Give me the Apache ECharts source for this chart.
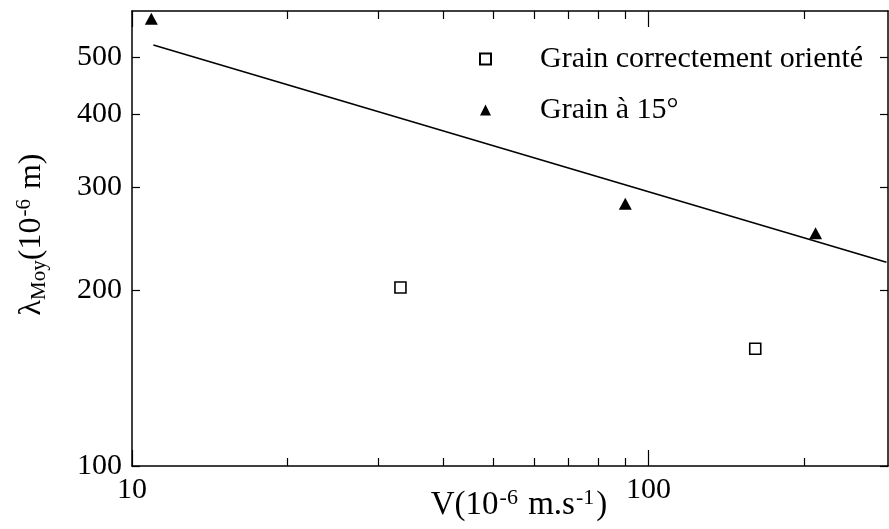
<!DOCTYPE html>
<html>
<head>
<meta charset="utf-8">
<script src="https://cdn.jsdelivr.net/npm/echarts@6/dist/echarts.min.js"></script>
<style>
html,body{margin:0;padding:0;background:#fff;}
#c{width:889px;height:529px;}
</style>
</head>
<body>
<div id="c"></div>
<script>
// Data
var vOriente = [33.1, 161];
var lamOriente = [202, 158.7];
var v15 = [10.9, 90.2, 210.7];
var lam15 = [582, 281, 250];
var fitV = [11, 289];
var fitLam = [525, 223];
var xLabelValues = [10, 100];
var xMajorTicks = [10, 100];
var xMinorTicks = [20, 30, 40, 50, 60, 70, 80, 90, 200];
var yTickValues = [100, 200, 300, 400, 500];
var seriesNames = ['Grain correctement orienté', 'Grain à 15°'];

function pairs(a, b) { return a.map(function (v, i) { return [v, b[i]]; }); }

var FONT = "'Liberation Serif','Times New Roman',serif";
var black = '#000';
var X_MIN = 10, X_MAX = 291, Y_MIN = 100, Y_MAX = 600;

function xAx(pos, ticks, len, showLine, showLabel) {
  return {
    type: 'log', logBase: 10, min: X_MIN, max: X_MAX, position: pos,
    axisLine: { show: showLine, onZero: false, lineStyle: { color: black, width: 1.5 } },
    axisTick: { show: true, inside: true, length: len, customValues: ticks, lineStyle: { color: black, width: 1.2 } },
    axisLabel: showLabel ? { show: true, customValues: xLabelValues, fontFamily: FONT, fontSize: 30, color: black, margin: 9 } : { show: false },
    splitLine: { show: false }, minorTick: { show: false }
  };
}
function yAx(pos, showLabel) {
  return {
    type: 'log', logBase: 10, min: Y_MIN, max: Y_MAX, position: pos,
    axisLine: { show: true, onZero: false, lineStyle: { color: black, width: 1.5 } },
    axisTick: { show: true, inside: true, length: 8, customValues: yTickValues, lineStyle: { color: black, width: 1.2 } },
    axisLabel: showLabel ? { show: true, customValues: yTickValues, fontFamily: FONT, fontSize: 30, color: black, margin: 10 } : { show: false },
    splitLine: { show: false }
  };
}

var xAxes = [
  xAx('bottom', xMajorTicks, 16, true, true),
  xAx('bottom', xMinorTicks, 8, false, false),
  xAx('top', xMajorTicks, 16, true, false),
  xAx('top', xMinorTicks, 8, false, false)
];
xAxes[0].name = '{n|V(10}{sup|-6}{n| m.s}{sup|-1}{n|)}';
xAxes[0].nameLocation = 'middle';
xAxes[0].nameGap = 21;
xAxes[0].nameMoveOverlap = false;
xAxes[0].nameTextStyle = {
  fontFamily: FONT, color: black, padding: [0, 0, 0, 18],
  rich: {
    n: { fontFamily: FONT, fontSize: 33, lineHeight: 36, color: black },
    sup: { fontFamily: FONT, fontSize: 22, lineHeight: 20, verticalAlign: 'top', color: black, padding: [0, 2, 0, 1] }
  }
};

var yAxes = [yAx('left', true), yAx('right', false)];
yAxes[0].name = '{n|λ}{sub|Moy}{n|(10}{sup|-6}{n| m)}';
yAxes[0].nameLocation = 'middle';
yAxes[0].nameGap = 82;
yAxes[0].nameMoveOverlap = false;
yAxes[0].nameTextStyle = {
  fontFamily: FONT, color: black, padding: [0, 0, 0, 8],
  rich: {
    n: { fontFamily: FONT, fontSize: 32, lineHeight: 36, color: black },
    sup: { fontFamily: FONT, fontSize: 21, lineHeight: 20, verticalAlign: 'top', color: black, padding: [0, 2, 0, 1] },
    sub: { fontFamily: FONT, fontSize: 21, lineHeight: 20, verticalAlign: 'bottom', color: black }
  }
};

var chart = echarts.init(document.getElementById('c'), null, { renderer: 'canvas' });
chart.setOption({
  animation: false,
  backgroundColor: '#fff',
  grid: { left: 132, right: 1, top: 11, bottom: 63, containLabel: false, outerBoundsMode: 'none' },
  xAxis: xAxes,
  yAxis: yAxes,
  legend: {
    orient: 'vertical', left: 474, top: 39,
    itemWidth: 11, itemHeight: 11, itemGap: 21,
    selectedMode: false,
    data: seriesNames,
    textStyle: { fontFamily: FONT, fontSize: 30, color: black, padding: [0, 0, 0, 44] }
  },
  series: [
    {
      name: seriesNames[0], type: 'scatter', xAxisIndex: 0, yAxisIndex: 0,
      symbol: 'rect', symbolSize: 11,
      itemStyle: { color: '#fff', borderColor: black, borderWidth: 1.6, opacity: 1 },
      data: pairs(vOriente, lamOriente), z: 5
    },
    {
      name: seriesNames[1], type: 'scatter', xAxisIndex: 0, yAxisIndex: 0,
      symbol: 'triangle', symbolSize: [13, 12],
      itemStyle: { color: black, opacity: 1 },
      data: pairs(v15, lam15), z: 5
    },
    {
      name: 'fit', type: 'line', xAxisIndex: 0, yAxisIndex: 0,
      showSymbol: false, symbol: 'none',
      lineStyle: { color: black, width: 1.6 },
      data: pairs(fitV, fitLam), z: 4
    }
  ]
});
</script>
</body>
</html>
